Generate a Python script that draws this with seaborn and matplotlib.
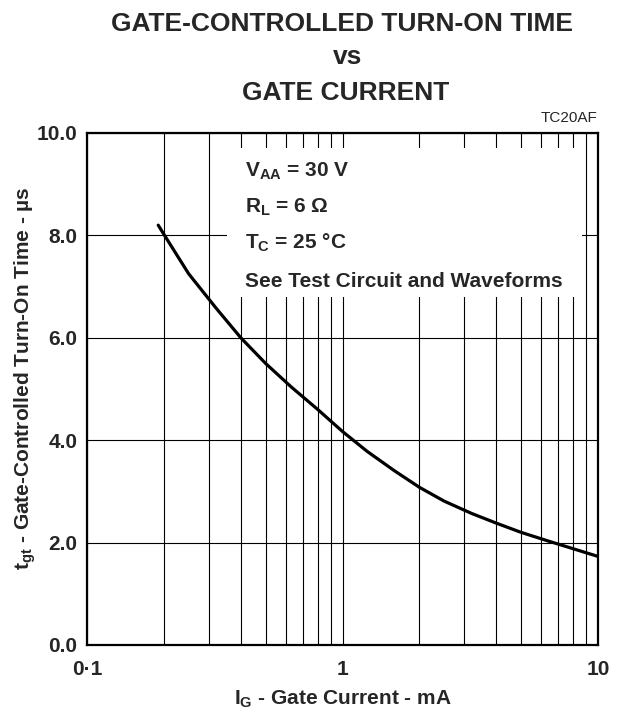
import matplotlib
matplotlib.use("Agg")
import matplotlib.pyplot as plt
from matplotlib.patches import Rectangle
from matplotlib.ticker import FixedLocator, FixedFormatter, NullFormatter
import seaborn as sns
import pandas as pd

# ---- data ----
gate_current_ma = [0.19, 0.2, 0.25, 0.32, 0.4, 0.5, 0.63, 0.8, 1.0, 1.25, 1.6, 2.0, 2.5, 3.2,
                   4.0, 5.0, 6.3, 8.0, 10.0]
turn_on_time_us = [8.2, 8.02, 7.25, 6.58, 6.0, 5.50, 5.04, 4.60, 4.17, 3.78, 3.40, 3.08, 2.81, 2.57,
                   2.38, 2.20, 2.04, 1.88, 1.73]
x_ticks = [0.1, 1, 10]
x_tick_labels = ["0·1", "1", "10"]
y_ticks = [0, 2, 4, 6, 8, 10]
y_tick_labels = ["0.0", "2.0", "4.0", "6.0", "8.0", "10.0"]
minor_x = [0.2, 0.3, 0.4, 0.5, 0.6, 0.7, 0.8, 0.9, 2, 3, 4, 5, 6, 7, 8, 9]
conditions = [r"$\mathbf{V_{AA}}$ = 30 V", r"$\mathbf{R_{L}}$ = 6 Ω", r"$\mathbf{T_{C}}$ = 25 °C",
              "See Test Circuit and Waveforms"]
title_lines = ["GATE-CONTROLLED TURN-ON TIME", "vs", "GATE CURRENT"]

sns.set_style("white")
plt.rcParams["font.family"] = ["Liberation Sans", "DejaVu Sans"]
plt.rcParams["mathtext.fontset"] = "custom"
plt.rcParams["mathtext.rm"] = "Liberation Sans"
plt.rcParams["mathtext.bf"] = "Liberation Sans:bold"
plt.rcParams["mathtext.it"] = "Liberation Sans:italic"

W, H = 619, 722
fig = plt.figure(figsize=(W / 100, H / 100), dpi=100)
L, R, T, B = 87, 598, 133, 645
ax = fig.add_axes([L / W, 1 - B / H, (R - L) / W, (B - T) / H])

df = pd.DataFrame({"ig": gate_current_ma, "t": turn_on_time_us})
sns.lineplot(data=df, x="ig", y="t", ax=ax, color="black", linewidth=2.3, zorder=3)

ax.set_xscale("log")
ax.set_xlim(0.1, 10)
ax.set_ylim(0, 10)

ax.xaxis.set_major_locator(FixedLocator(x_ticks))
ax.xaxis.set_major_formatter(FixedFormatter(x_tick_labels))
ax.xaxis.set_minor_locator(FixedLocator(minor_x))
ax.xaxis.set_minor_formatter(NullFormatter())
ax.yaxis.set_major_locator(FixedLocator(y_ticks))
ax.yaxis.set_major_formatter(FixedFormatter(y_tick_labels))

ax.set_axisbelow(True)
ax.grid(True, which="both", axis="x", color="black", linewidth=0.8)
ax.grid(True, which="major", axis="y", color="black", linewidth=0.8)

ax.tick_params(axis="both", which="both", length=0)
ax.tick_params(axis="y", pad=7)
ax.tick_params(axis="x", pad=11)
for lab in ax.get_xticklabels() + ax.get_yticklabels():
    lab.set_fontsize(15)
    lab.set_fontweight("bold")

for s in ax.spines.values():
    s.set_visible(True)
    s.set_color("black")
    s.set_linewidth(1.6)

# white box behind the condition text
ax.add_patch(Rectangle((0.352, 6.80), 8.63 - 0.352, 9.71 - 6.80, facecolor="white",
                       edgecolor="none", zorder=1))

ax.set_xlabel("")
ax.set_ylabel("")

# condition text (baselines in pixels)
base_y = [176.5, 213, 249, 287]
for txt, by in zip(conditions, base_y):
    fig.text(245 / W, 1 - by / H, txt, fontsize=15, fontweight="bold", ha="left", va="baseline")

# titles
fig.text(342 / W, 1 - 31 / H, title_lines[0], fontsize=19, fontweight="bold", ha="center", va="baseline")
fig.text(348 / W, 1 - 64 / H, title_lines[1], fontsize=19, fontweight="bold", ha="center", va="baseline")
fig.text(346 / W, 1 - 100 / H, title_lines[2], fontsize=19, fontweight="bold", ha="center", va="baseline")
fig.text(597 / W, 1 - 122 / H, "TC20AF", fontsize=11, ha="right", va="baseline")

# axis labels
fig.text(342.5 / W, 1 - 705 / H, r"$\mathbf{I_{G}}$ - Gate Current - mA", fontsize=15,
         fontweight="bold", ha="center", va="baseline")
fig.text(25 / W, 1 - 378.5 / H, r"$\mathbf{t_{gt}}$ - Gate-Controlled Turn-On Time - µs", fontsize=15,
         fontweight="bold", ha="center", va="center", rotation=90, rotation_mode="anchor")

fig.savefig("out.png", dpi=100)
